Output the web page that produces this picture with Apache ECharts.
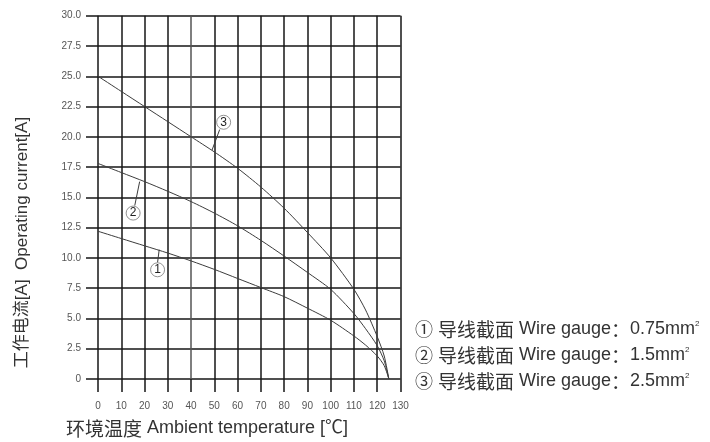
<!DOCTYPE html>
<html>
<head>
<meta charset="utf-8">
<script src="https://cdn.jsdelivr.net/npm/echarts@6/dist/echarts.min.js"></script>
<style>
html,body{margin:0;padding:0;background:#fff;}
#chart{width:710px;height:442px;}
</style>
</head>
<body>
<div id="chart"></div>
<script>
// ---- data ----
const temps = [0, 10, 20, 30, 40, 50, 60, 70, 80, 90, 100, 110, 115, 120, 123, 125];
const current075 = [12.2, 11.6, 11.0, 10.4, 9.75, 9.05, 8.3, 7.55, 6.8, 5.85, 4.85, 3.55, 2.8, 1.9, 1.1, 0];
const current15  = [17.8, 17.05, 16.3, 15.5, 14.65, 13.7, 12.65, 11.45, 10.15, 8.8, 7.4, 5.4, 4.15, 2.75, 1.5, 0];
const current25  = [25.0, 23.75, 22.5, 21.25, 20.0, 18.75, 17.4, 15.85, 14.1, 12.1, 10.0, 7.4, 5.7, 3.5, 1.9, 0];
const xTicks = [0,10,20,30,40,50,60,70,80,90,100,110,120,130];
const yTicks = ['0','2.5','5.0','7.5','10.0','12.5','15.0','17.5','20.0','22.5','25.0','27.5','30.0'];
const seriesNames = ['0.75', '1.5', '2.5'];
const seriesMarks = ['1', '2', '3'];
// annotation: point on curve -> label circle
const leaderFrom = [[26.3, 10.68], [17.9, 16.3], [49.0, 18.9]];
const leaderTo   = [[25.6, 9.62], [15.8, 14.32], [52.3, 20.6]];
const labelPos   = [[25.6, 9.02], [15.1, 13.7], [54.0, 21.2]];
const legendLabels = ['①', '②', '③'];
const xTitleCn = '环境温度';
const xTitleEn = ' Ambient temperature [℃]';
const yTitle = '工作电流[A]  Operating current[A]';

const allY = [current075, current15, current25];

const chart = echarts.init(document.getElementById('chart'), null, {renderer: 'canvas'});
const gridColors = xTicks.map(v => v === 40 ? '#555555' : '#161616');

const series = allY.map((ys, i) => ({
  type: 'line',
  name: seriesNames[i],
  data: temps.map((t, k) => [t, ys[k]]),
  smooth: 0.25,
  showSymbol: false,
  symbol: 'none',
  lineStyle: {color: '#3c3c3c', width: 1},
  z: 5,
  markLine: {
    silent: true,
    symbol: 'none',
    label: {show: false},
    lineStyle: {color: '#3c3c3c', width: 1, type: 'solid'},
    data: [[{coord: leaderFrom[i]}, {coord: leaderTo[i]}]],
    animation: false
  },
  markPoint: {
    silent: true,
    symbol: 'circle',
    symbolSize: 14,
    itemStyle: {color: '#fff', borderColor: '#777', borderWidth: 0.8},
    label: {show: true, formatter: seriesMarks[i], color: '#222', fontSize: 12,
            fontFamily: 'Liberation Sans, Arial, sans-serif'},
    data: [{coord: labelPos[i]}],
    animation: false
  }
}));

const LATIN = '"Liberation Sans", "Noto Sans CJK SC", sans-serif';
const legendY = [332, 358, 384];
const legendText = seriesNames.map((n, i) => ({
  type: 'text',
  left: 415,
  top: legendY[i] - 12,
  style: {
    text: '{c|' + legendLabels[i] + '} {h|导线截面} Wire gauge{h|：}' + n + 'mm{s|2}',
    font: '18px ' + LATIN,
    fill: '#333',
    rich: {
      c: {fontSize: 18, fontFamily: 'Noto Sans CJK SC', fill: '#333'},
      h: {fontSize: 19, fontFamily: 'Noto Sans CJK SC', fill: '#333'},
      s: {fontSize: 8, verticalAlign: 'top', fill: '#333', fontFamily: 'Liberation Sans'}
    }
  }
}));

chart.setOption({
  animation: false,
  backgroundColor: '#fff',
  grid: {left: 98, right: 309.5, top: 15.7, bottom: 63, containLabel: false},
  xAxis: {
    type: 'value', min: 0, max: 130, interval: 10,
    axisLine: {show: false},
    axisTick: {show: true, length: 13, lineStyle: {color: '#161616', width: 1.5}},
    axisLabel: {margin: 22, fontSize: 10, color: '#555', fontFamily: 'Liberation Sans, Arial, sans-serif'},
    splitLine: {show: true, lineStyle: {color: gridColors, width: 1.5}}
  },
  yAxis: {
    type: 'value', min: 0, max: 30, interval: 2.5,
    axisLine: {show: false},
    axisTick: {show: true, length: 12, lineStyle: {color: '#161616', width: 1.5}},
    axisLabel: {margin: 17, fontSize: 10, color: '#555', fontFamily: 'Liberation Sans, Arial, sans-serif',
      formatter: (v) => yTicks[Math.round(v / 2.5)]},
    splitLine: {show: true, lineStyle: {color: '#161616', width: 1.5}}
  },
  series: series,
  graphic: [
    {type: 'text', left: 66, top: 419,
     style: {text: '{h|' + xTitleCn + '}' + xTitleEn, font: '18px ' + LATIN, fill: '#333',
             rich: {h: {fontSize: 19, fontFamily: 'Noto Sans CJK SC', fill: '#333'}}}},
    {type: 'text', x: 22, y: 242.5, rotation: Math.PI / 2,
     style: {text: yTitle, font: '17px ' + LATIN, fill: '#333',
             align: 'center', verticalAlign: 'middle'}}
  ].concat(legendText)
});
</script>
</body>
</html>
